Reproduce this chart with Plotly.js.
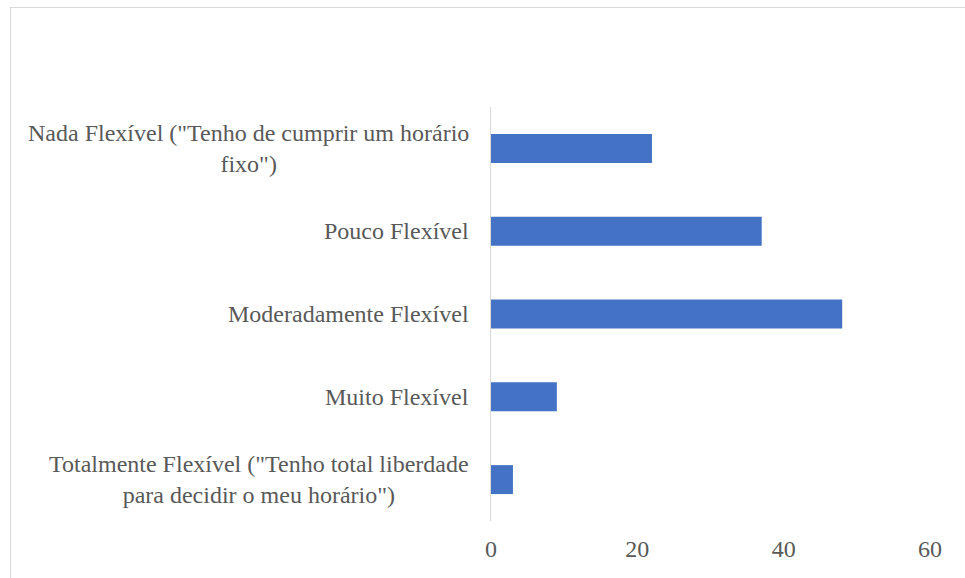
<!DOCTYPE html>
<html>
<head>
<meta charset="utf-8">
<script src="https://cdn.plot.ly/plotly-3.0.1.min.js"></script>
<style>
  html, body { margin: 0; padding: 0; background: #fff; }
  #wrap { position: relative; width: 965px; height: 578px; overflow: hidden; }
  #chart { width: 965px; height: 578px; }
  #frame { position: absolute; left: 10px; top: 7px; width: 1000px; height: 700px;
           border: 1.5px solid #d9d9d9; pointer-events: none; box-sizing: border-box; }
</style>
</head>
<body>
<div id="wrap">
  <div id="chart"></div>
  <div id="frame"></div>
</div>
<script>
const categories = [
  'Nada Flexível ("Tenho de cumprir um horário<br>fixo")',
  'Pouco Flexível',
  'Moderadamente Flexível',
  'Muito Flexível',
  'Totalmente Flexível ("Tenho total liberdade<br>para decidir o meu horário")'
];
const values = [22, 37, 48, 9, 3];
const xTicks = [0, 20, 40, 60];

const fontFamily = 'Times New Roman, Liberation Serif, serif';
const textColor = '#595959';

const trace = {
  type: 'bar',
  orientation: 'h',
  x: values,
  y: categories,
  marker: { color: '#4472C4' },
  hoverinfo: 'x+y'
};

const annotations = categories.map(c => ({
  xref: 'paper', yref: 'y',
  x: 0, y: c,
  xanchor: 'right', yanchor: 'middle',
  xshift: -20,
  align: 'center',
  text: c,
  showarrow: false,
  font: { family: fontFamily, size: 24, color: textColor }
}));

const layout = {
  width: 965, height: 578,
  margin: { l: 491, r: 35, t: 107, b: 57 },
  paper_bgcolor: '#ffffff',
  plot_bgcolor: '#ffffff',
  showlegend: false,
  bargap: 0.65,
  font: { family: fontFamily, size: 24, color: textColor },
  xaxis: {
    range: [0, 60],
    tickvals: xTicks,
    ticktext: xTicks.map(String),
    showgrid: false,
    zeroline: false,
    showline: false,
    ticks: '',
    ticklabelstandoff: 11,
    tickfont: { family: fontFamily, size: 24, color: textColor },
    fixedrange: true
  },
  yaxis: {
    type: 'category',
    autorange: 'reversed',
    showticklabels: false,
    showgrid: false,
    zeroline: false,
    showline: true,
    linecolor: '#d9d9d9',
    linewidth: 1.5,
    ticks: '',
    fixedrange: true
  },
  annotations: annotations
};

Plotly.newPlot('chart', [trace], layout, { displayModeBar: false, staticPlot: true });
</script>
</body>
</html>
